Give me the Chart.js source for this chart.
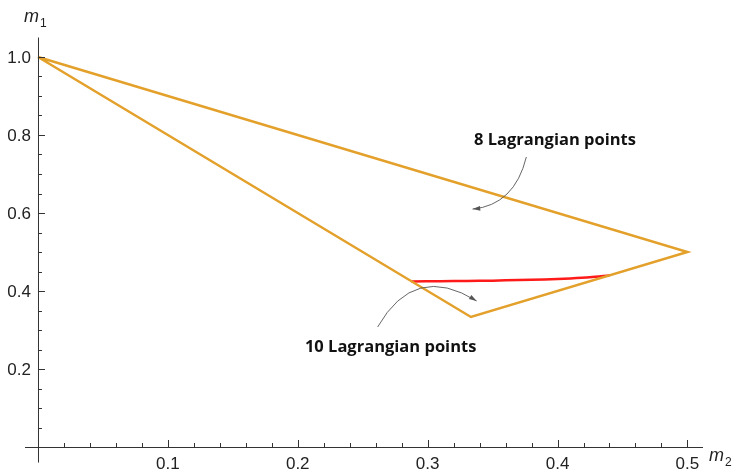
<!DOCTYPE html>
<html>
<head>
<meta charset="utf-8">
<script src="https://cdn.jsdelivr.net/npm/chart.js@4.4.1/dist/chart.umd.min.js"></script>
<style>
  html, body { margin: 0; padding: 0; background: #fff; }
  #wrap { width: 743px; height: 472px; }
</style>
</head>
<body>
<div id="wrap"><canvas id="c"></canvas></div>
<script>
// triangle boundary (m2, m1)
const triX = [0, 0.5, 1/3, 0];
const triY = [1, 0.5, 1/3, 1];
// red curve
const redX = [0.2875, 0.31, 0.33, 0.35, 0.37, 0.39, 0.41, 0.425, 0.44];
const redY = [0.4245, 0.4250, 0.4257, 0.4266, 0.4280, 0.4298, 0.4322, 0.4350, 0.4400];
// ticks
const xMajor = [0.1, 0.2, 0.3, 0.4, 0.5];
const xLabels = ['0.1', '0.2', '0.3', '0.4', '0.5'];
const yMajor = [0.2, 0.4, 0.6, 0.8, 1.0];
const yLabels = ['0.2', '0.4', '0.6', '0.8', '1.0'];
// annotations: [text, x, y]
const notes = [['8 Lagrangian points', 0.398, 0.787], ['10 Lagrangian points', 0.2715, 0.256]];
// arrows: start, control, end (data coords)
const arrows = [
  [[0.376, 0.7436], [0.3669, 0.6205], [0.3346, 0.610]],
  [[0.2615, 0.3077], [0.29, 0.474], [0.3377, 0.3744]]
];

const pts = (xs, ys) => xs.map((x, i) => ({ x, y: ys[i] }));

const axes = {
  id: 'axes',
  afterDatasetsDraw(chart) {
    const ctx = chart.ctx, xs = chart.scales.x, ys = chart.scales.y;
    const X = v => xs.getPixelForValue(v), Y = v => ys.getPixelForValue(v);
    const ox = X(0), oy = Y(0);
    ctx.save();
    ctx.strokeStyle = '#333'; ctx.lineWidth = 1;
    ctx.beginPath();
    ctx.moveTo(xs.left, oy + 0.5); ctx.lineTo(xs.right, oy + 0.5);
    ctx.moveTo(ox + 0.5, ys.top); ctx.lineTo(ox + 0.5, ys.bottom);
    for (let v = 0.02; v <= 0.501; v += 0.02) {
      const major = Math.abs(v * 10 - Math.round(v * 10)) < 1e-6;
      const px = Math.round(X(v)) + 0.5;
      ctx.moveTo(px, oy); ctx.lineTo(px, oy - (major ? 7 : 4));
    }
    for (let v = 0.05; v <= 1.001; v += 0.05) {
      const major = Math.abs(v * 5 - Math.round(v * 5)) < 1e-6;
      const py = Math.round(Y(v)) + 0.5;
      ctx.moveTo(ox, py); ctx.lineTo(ox + (major ? 7 : 4), py);
    }
    ctx.stroke();
    ctx.fillStyle = '#222';
    ctx.font = '17px "Liberation Sans", Arial, sans-serif';
    ctx.textAlign = 'center'; ctx.textBaseline = 'top';
    xMajor.forEach((v, i) => ctx.fillText(xLabels[i], X(v), oy + 9));
    ctx.textAlign = 'right'; ctx.textBaseline = 'middle';
    yMajor.forEach((v, i) => ctx.fillText(yLabels[i], ox - 7, Y(v) + 1));
    // axis labels
    ctx.font = 'italic 18px "Liberation Sans", Arial, sans-serif';
    ctx.textAlign = 'left'; ctx.textBaseline = 'alphabetic';
    ctx.fillText('m', ox - 14, 22);
    ctx.fillText('m', xs.right + 6, oy + 14);
    ctx.font = '12px "Liberation Sans", Arial, sans-serif';
    ctx.fillText('1', ox + 2, 27);
    ctx.fillText('2', xs.right + 22, oy + 19);
    // arrows
    ctx.strokeStyle = '#555'; ctx.fillStyle = '#555'; ctx.lineWidth = 0.9;
    arrows.forEach(([s, c, e]) => {
      const sx = X(s[0]), sy = Y(s[1]), cx = X(c[0]), cy = Y(c[1]), ex = X(e[0]), ey = Y(e[1]);
      ctx.beginPath(); ctx.moveTo(sx, sy); ctx.quadraticCurveTo(cx, cy, ex, ey); ctx.stroke();
      const a = Math.atan2(ey - cy, ex - cx);
      ctx.beginPath();
      ctx.moveTo(ex, ey);
      ctx.lineTo(ex - 8 * Math.cos(a - 0.3), ey - 8 * Math.sin(a - 0.3));
      ctx.lineTo(ex - 8 * Math.cos(a + 0.3), ey - 8 * Math.sin(a + 0.3));
      ctx.closePath(); ctx.fill();
    });
    // notes
    ctx.fillStyle = '#111';
    ctx.font = 'bold 16.5px "Open Sans", sans-serif';
    ctx.textAlign = 'center'; ctx.textBaseline = 'middle';
    notes.forEach(([t, x, y]) => ctx.fillText(t, X(x), Y(y)));
    ctx.restore();
  }
};

new Chart(document.getElementById('c'), {
  type: 'scatter',
  data: {
    datasets: [
      { data: pts(triX, triY), showLine: true, borderColor: '#E3A02A', borderWidth: 2.5, pointRadius: 0, tension: 0, borderJoinStyle: 'miter' },
      { data: pts(redX, redY), showLine: true, borderColor: '#FF1A1A', borderWidth: 2.5, pointRadius: 0, tension: 0.3 }
    ]
  },
  options: {
    responsive: true, maintainAspectRatio: false, animation: false,
    layout: { padding: { left: 25, right: 40, top: 37.5, bottom: 9.4 } },
    plugins: { legend: { display: false }, tooltip: { enabled: false } },
    scales: {
      x: { type: 'linear', min: -0.01, max: 0.512, display: false },
      y: { type: 'linear', min: -0.04, max: 1.05, display: false }
    }
  },
  plugins: [axes]
});
</script>
</body>
</html>
